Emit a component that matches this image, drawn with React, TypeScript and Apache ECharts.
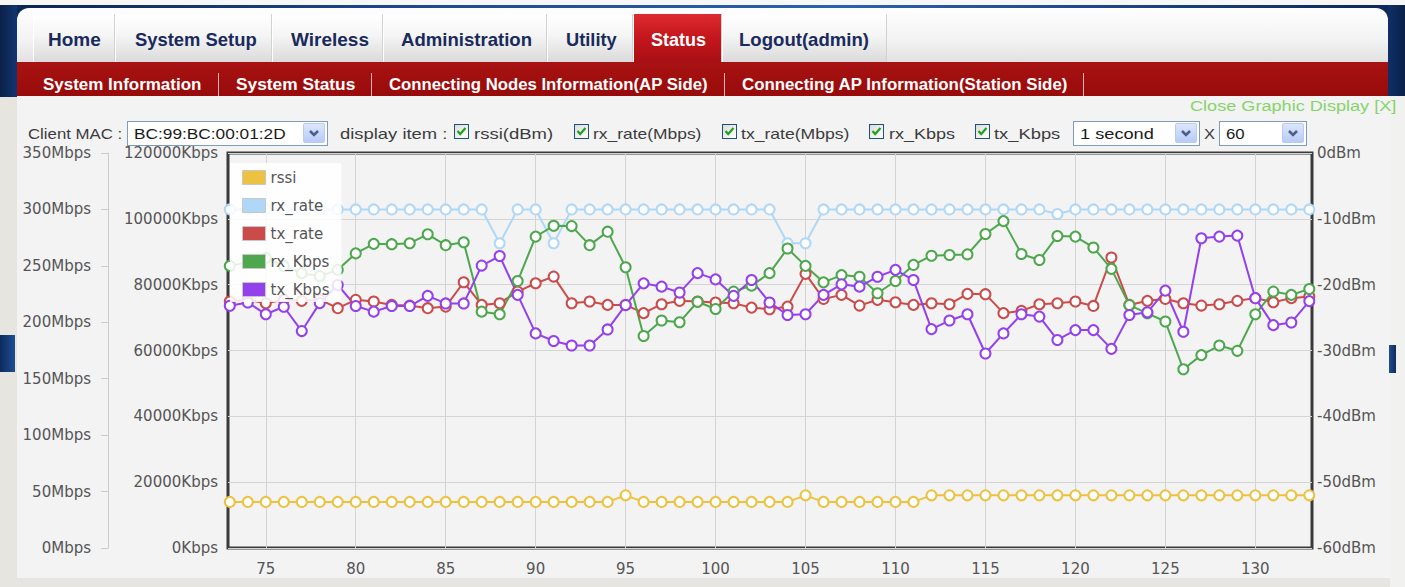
import React, { useEffect, useLayoutEffect, useRef, useState } from 'react';
import * as echarts from 'echarts';

// ---------------- chart data ----------------
const seconds = [73, 74, 75, 76, 77, 78, 79, 80, 81, 82, 83, 84, 85, 86, 87, 88, 89, 90, 91, 92, 93, 94, 95, 96, 97, 98, 99, 100, 101, 102, 103, 104, 105, 106, 107, 108, 109, 110, 111, 112, 113, 114, 115, 116, 117, 118, 119, 120, 121, 122, 123, 124, 125, 126, 127, 128, 129, 130, 131, 132, 133];
const xTicks = [75, 80, 85, 90, 95, 100, 105, 110, 115, 120, 125, 130];
const rssi = [-53, -53, -53, -53, -53, -53, -53, -53, -53, -53, -53, -53, -53, -53, -53, -53, -53, -53, -53, -53, -53, -53, -52, -53, -53, -53, -53, -53, -53, -53, -53, -53, -52, -53, -53, -53, -53, -53, -53, -52, -52, -52, -52, -52, -52, -52, -52, -52, -52, -52, -52, -52, -52, -52, -52, -52, -52, -52, -52, -52, -52];
const rxRate = [300, 300, 300, 300, 300, 300, 300, 300, 300, 300, 300, 300, 300, 300, 300, 270, 300, 300, 270, 300, 300, 300, 300, 300, 300, 300, 300, 300, 300, 300, 300, 270, 270, 300, 300, 300, 300, 300, 300, 300, 300, 300, 300, 300, 300, 300, 296, 300, 300, 300, 300, 300, 300, 300, 300, 300, 300, 300, 300, 300, 300];
const txRate = [218.4, 219.9, 216.9, 220.0, 219.0, 220.0, 212.5, 219.9, 218.4, 215.4, 214.8, 212.5, 213.9, 235.5, 215.4, 216.9, 227.2, 234.6, 240.5, 216.9, 218.4, 215.4, 215.4, 208.1, 216.0, 219.0, 218.4, 217.5, 216.9, 213.0, 211.6, 213.9, 242.9, 220.7, 224.3, 214.8, 219.9, 217.8, 215.4, 216.9, 216.0, 225.2, 224.9, 208.1, 210.1, 216.0, 216.9, 218.4, 214.5, 257.4, 215.4, 219.0, 220.7, 216.9, 214.8, 216.0, 219.0, 221.4, 217.8, 221.4, 222.8];
const rxKbps = [85700, 86900, 88100, 85700, 83500, 82600, 84500, 89500, 92400, 92300, 92600, 95300, 92000, 92900, 71800, 71000, 81100, 94600, 97900, 97800, 92000, 96100, 85300, 64400, 69100, 68600, 74800, 72600, 77900, 79700, 83500, 91000, 85700, 80700, 82900, 82400, 77400, 81100, 86000, 88800, 89000, 89200, 95400, 99300, 89300, 87500, 94800, 94600, 91300, 84800, 73800, 71300, 68800, 54300, 58600, 61500, 59900, 71000, 77900, 76900, 78700];
const txKbps = [73600, 74600, 71000, 73300, 65900, 74400, 79900, 73500, 71800, 73500, 73500, 76600, 74300, 74300, 85800, 88700, 76900, 65200, 62900, 61500, 61500, 66400, 73800, 80400, 79400, 77600, 83500, 81600, 76600, 81400, 74600, 70800, 71000, 76900, 80100, 79400, 82400, 84500, 81400, 66500, 69100, 71000, 59100, 65200, 71000, 70300, 63200, 66200, 66200, 60500, 70800, 71600, 78200, 65700, 94100, 94600, 94900, 75900, 67700, 68500, 75000];
const seriesNames = ['rssi', 'rx_rate', 'tx_rate', 'rx_Kbps', 'tx_Kbps'];
const seriesColors = ['#edc240', '#afd8f8', '#cb4b4b', '#4da74d', '#9440ed'];
const seriesAxis = [2, 1, 1, 0, 0];
const seriesValues = [rssi, rxRate, txRate, rxKbps, txKbps];

// ---------------- page texts ----------------
const tabs = [
  { label: 'Home', l: 33, r: 115, tx: 48, tw: 53 },
  { label: 'System Setup', l: 115, r: 272, tx: 135, tw: 122 },
  { label: 'Wireless', l: 272, r: 383, tx: 291, tw: 78 },
  { label: 'Administration', l: 383, r: 547, tx: 401, tw: 131 },
  { label: 'Utility', l: 547, r: 633, tx: 566, tw: 51 },
  { label: 'Status', l: 633, r: 722, tx: 651, tw: 55, active: true },
  { label: 'Logout(admin)', l: 722, r: 887, tx: 739, tw: 130 },
];
const subnav = [
  { label: 'System Information', x: 43, w: 158 },
  { label: 'System Status', x: 236, w: 119 },
  { label: 'Connecting Nodes Information(AP Side)', x: 389, w: 319 },
  { label: 'Connecting AP Information(Station Side)', x: 742, w: 325 },
];
const subSeps = [218, 371, 724, 1083];
const checks = [
  { label: 'rssi(dBm)', x: 454, tx: 474, tw: 79 },
  { label: 'rx_rate(Mbps)', x: 574, tx: 593, tw: 108 },
  { label: 'tx_rate(Mbps)', x: 722, tx: 741, tw: 109 },
  { label: 'rx_Kbps', x: 869, tx: 889, tw: 66 },
  { label: 'tx_Kbps', x: 975, tx: 994, tw: 66 },
];

const SANS = '"Liberation Sans", Arial, sans-serif';
const FONT = '"DejaVu Sans", sans-serif';

function FitText(props: any) {
  const { x, y, w, text, size = 14, weight = 400, color = '#333', family = SANS } = props;
  const ref = useRef<HTMLSpanElement>(null);
  const [sx, setSx] = useState(1);
  useLayoutEffect(() => {
    const el = ref.current;
    if (el && el.offsetWidth > 0) setSx(w / el.offsetWidth);
  }, [text, w, size, weight, family]);
  return (
    <span
      ref={ref}
      style={{
        position: 'absolute', left: x, top: y - size / 2, display: 'inline-block', whiteSpace: 'nowrap',
        fontSize: size, fontWeight: weight, color, fontFamily: family, lineHeight: `${size}px`, height: size,
        transform: `scaleX(${sx})`, transformOrigin: '0 50%',
      }}
    >
      {text}
    </span>
  );
}

function Arrow(props: any) {
  const { x } = props;
  return (
    <div style={{ position: 'absolute', left: x, top: 123, width: 22, height: 20, boxSizing: 'border-box', border: '1px solid #b9cbf3', borderRadius: 2, background: 'linear-gradient(#dce6fd, #b7cbf6)' }}>
      <svg width="20" height="18" style={{ position: 'absolute', left: 0, top: 0 }}>
        <polyline points="6,7 10,11 14,7" stroke="#4b5e8c" strokeWidth="2.6" fill="none" />
      </svg>
    </div>
  );
}

function Select(props: any) {
  const { x, w, text, tw } = props;
  return (
    <>
      <div style={{ position: 'absolute', left: x, top: 121, width: w, height: 25, boxSizing: 'border-box', border: '1px solid #7f9db9', background: '#fff' }} />
      <FitText x={x + 7} y={133} w={tw} text={text} size={15} color="#1a1a1a" />
      <Arrow x={x + w - 25} />
    </>
  );
}

function CheckBox(props: any) {
  const { x } = props;
  return (
    <div style={{ position: 'absolute', left: x, top: 124, width: 15, height: 15, boxSizing: 'border-box', border: '1px solid #1c5180', background: 'linear-gradient(135deg, #dcdcd6, #ffffff)' }}>
      <svg width="13" height="13" style={{ position: 'absolute', left: 0, top: 0 }}>
        <polyline points="2.5,6 5.2,9 10.5,3" stroke="#21a121" strokeWidth="2.2" fill="none" />
      </svg>
    </div>
  );
}

function Chart() {
  const ref = useRef<HTMLDivElement>(null);
  useEffect(() => {
    if (!ref.current) return;
    const chart = echarts.init(ref.current, null, { renderer: 'svg' });
    const labelStyle = { color: '#555555', fontFamily: FONT, fontSize: 15 };
    chart.setOption({
      animation: false,
      backgroundColor: 'transparent',
      grid: { left: 228, right: 93, top: 153, bottom: 39, show: true, borderColor: '#3a3a3a', borderWidth: 3, backgroundColor: 'transparent' },
      legend: {
        orient: 'vertical', left: 230, top: 163,
        padding: [7, 12, 5, 12], itemGap: 13, itemWidth: 23, itemHeight: 14,
        backgroundColor: 'rgba(255,255,255,0.85)', icon: 'rect', selectedMode: false,
        textStyle: { color: '#555555', fontFamily: FONT, fontSize: 15 },
        data: seriesNames.map((n, i) => ({ name: n, itemStyle: { color: seriesColors[i], borderColor: '#c8c8c8', borderWidth: 1 } })),
      },
      xAxis: {
        type: 'value', min: 72.9, max: 133.15,
        axisLine: { show: false },
        axisTick: { show: false, customValues: xTicks },
        axisLabel: { customValues: xTicks, margin: 13, ...labelStyle },
        splitLine: { show: true, lineStyle: { color: '#d4d4d4', width: 1 } },
      },
      yAxis: [
        {
          type: 'value', position: 'left', min: 0, max: 120000, interval: 20000,
          axisLine: { show: false }, axisTick: { show: false },
          axisLabel: { formatter: (v: number) => `${v}Kbps`, margin: 10, ...labelStyle },
          splitLine: { show: true, lineStyle: { color: '#d4d4d4', width: 1 } },
        },
        {
          type: 'value', position: 'left', offset: 120, min: 0, max: 350, interval: 50,
          axisLine: { show: true, lineStyle: { color: '#cccccc', width: 1 } },
          axisTick: { show: true, length: 7, lineStyle: { color: '#cccccc' } },
          axisLabel: { formatter: (v: number) => `${v}Mbps`, margin: 17, ...labelStyle },
          splitLine: { show: false },
        },
        {
          type: 'value', position: 'right', min: -60, max: 0, interval: 10,
          axisLine: { show: false }, axisTick: { show: false },
          axisLabel: { formatter: (v: number) => `${v}dBm`, margin: 5, ...labelStyle },
          splitLine: { show: false },
        },
      ],
      series: seriesNames.map((n, i) => ({
        name: n, type: 'line', yAxisIndex: seriesAxis[i],
        data: seconds.map((s, k) => [s, seriesValues[i][k]]),
        symbol: 'emptyCircle', symbolSize: 10, clip: false,
        lineStyle: { color: seriesColors[i], width: 2 },
        itemStyle: { color: seriesColors[i], borderWidth: 2 },
        emphasis: { disabled: true },
      })),
    });
    return () => chart.dispose();
  }, []);
  return <div ref={ref} style={{ position: 'absolute', left: 0, top: 0, width: 1405, height: 587 }} />;
}

export default function App() {
  return (
    <div style={{ position: 'fixed', left: 0, top: 0, width: 1405, height: 587, overflow: 'hidden', background: '#e7e5df', fontFamily: SANS }}>
      {/* top strip & navy frame */}
      <div style={{ position: 'absolute', left: 0, top: 0, width: 1405, height: 6, background: '#f7f7f7' }} />
      <div style={{ position: 'absolute', left: 0, top: 5, width: 1405, height: 92, background: 'linear-gradient(90deg, #0b2553 0%, #1d4a8c 30%, #2b62ad 60%, #0c2757 100%)' }} />
      <div style={{ position: 'absolute', left: 0, top: 5, width: 17, height: 92, background: 'linear-gradient(90deg, #0a2149, #123470)' }} />
      <div style={{ position: 'absolute', left: 1388, top: 5, width: 17, height: 92, background: 'linear-gradient(90deg, #102f66, #0a2149)' }} />
      {/* tab bar */}
      <div style={{ position: 'absolute', left: 17, top: 8, width: 1371, height: 58, borderTopLeftRadius: 12, borderTopRightRadius: 12, background: 'linear-gradient(#fefefe, #f3f3f3 55%, #dedede)' }} />
      {tabs.map((t) => (
        <div key={t.label} style={{
          position: 'absolute', left: t.l, top: 14, width: t.r - t.l, height: 48, boxSizing: 'border-box',
          borderRight: '1px solid #d2d2d2', borderLeft: '1px solid #ffffff',
          background: t.active ? 'linear-gradient(#de2a30, #c4161d 50%, #a90f15)' : 'linear-gradient(#ffffff, #f5f5f5 45%, #dadada)',
        }} />
      ))}
      {tabs.map((t) => (
        <FitText key={'t' + t.label} x={t.tx} y={39} w={t.tw} text={t.label} size={19} weight={700} color={t.active ? '#ffffff' : '#1a2a5c'} />
      ))}
      {/* sub navigation */}
      <div style={{ position: 'absolute', left: 17, top: 62, width: 1371, height: 34, background: 'linear-gradient(#a81212, #980b0b)' }} />
      {subSeps.map((x) => (
        <div key={'s' + x} style={{ position: 'absolute', left: x, top: 73, width: 1, height: 23, background: '#e8b0b0' }} />
      ))}
      {subnav.map((s) => (
        <FitText key={s.label} x={s.x} y={85} w={s.w} text={s.label} size={16} weight={700} color="#ffffff" />
      ))}
      {/* content panel */}
      <div style={{ position: 'absolute', left: 17, top: 96, width: 1373, height: 482, background: '#f3f3f3' }} />
      <div style={{ position: 'absolute', left: 1390, top: 96, width: 15, height: 491, background: '#f1f1ef' }} />
      <div style={{ position: 'absolute', left: 0, top: 335, width: 15, height: 37, background: 'linear-gradient(90deg, #0d2a5c, #1e4f92)' }} />
      <div style={{ position: 'absolute', left: 1389, top: 345, width: 7, height: 28, background: 'linear-gradient(90deg, #1e4f92, #0d2a5c)' }} />
      <FitText x={1190} y={106} w={207} text="Close Graphic Display [X]" size={14} color="#86d46a" />
      {/* controls row */}
      <FitText x={28} y={133} w={94} text="Client MAC :" size={15} color="#3c3c3c" />
      <Select x={127} w={201} text="BC:99:BC:00:01:2D" tw={152} />
      <FitText x={340} y={133} w={108} text="display item :" size={15} color="#3c3c3c" />
      {checks.map((c) => (
        <React.Fragment key={c.label}>
          <CheckBox x={c.x} />
          <FitText x={c.tx} y={133} w={c.tw} text={c.label} size={15} color="#3c3c3c" />
        </React.Fragment>
      ))}
      <Select x={1073} w={127} text="1 second" tw={74} />
      <FitText x={1204} y={133} w={11} text="X" size={15} color="#3c3c3c" />
      <Select x={1219} w={88} text="60" tw={19} />
      <Chart />
    </div>
  );
}
